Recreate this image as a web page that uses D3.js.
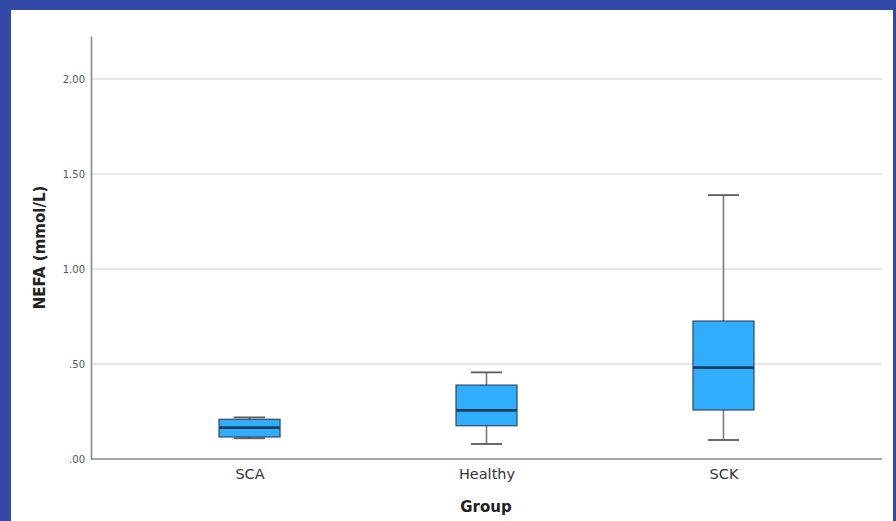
<!DOCTYPE html>
<html>
<head>
<meta charset="utf-8">
<script src="https://cdn.jsdelivr.net/npm/d3@7/dist/d3.min.js"></script>
<style>
  html, body { margin: 0; padding: 0; background: #3349a8; }
  svg { display: block; }
</style>
</head>
<body>
<svg id="chart" width="896" height="521"></svg>
<script>
const categories = ["SCA", "Healthy", "SCK"];
const mins    = [0.109, 0.079, 0.100];
const q1s     = [0.116, 0.175, 0.258];
const medians = [0.165, 0.256, 0.481];
const q3s     = [0.209, 0.389, 0.726];
const maxs    = [0.219, 0.456, 1.389];
const yTicks = [0, 0.5, 1.0, 1.5, 2.0];
const yTickLabels = [".00", ".50", "1.00", "1.50", "2.00"];

const data = categories.map((c, i) => ({
  cat: c, min: mins[i], q1: q1s[i], med: medians[i], q3: q3s[i], max: maxs[i]
}));

const svg = d3.select("#chart");
svg.append("rect").attr("x", 11).attr("y", 10).attr("width", 882).attr("height", 511).attr("fill", "#ffffff");

const mLeft = 91, mRight = 882, mTop = 36, mBottom = 459;
const y = d3.scaleLinear().domain([0, 2.2265]).range([mBottom, mTop]);
const x = d3.scalePoint().domain(categories).range([mLeft, mRight]).padding(0.669);

// gridlines
svg.append("g").selectAll("line").data(yTicks.filter(t => t > 0)).join("line")
  .attr("x1", mLeft).attr("x2", mRight)
  .attr("y1", d => y(d)).attr("y2", d => y(d))
  .attr("stroke", "#dedede").attr("stroke-width", 1.4);

// y axis
const yAxis = d3.axisLeft(y).tickValues(yTicks).tickFormat((d, i) => yTickLabels[i]).tickSize(0).tickPadding(6);
const gy = svg.append("g").attr("transform", `translate(${mLeft},0)`).call(yAxis);
gy.select(".domain").attr("stroke", "#8a8a8a").attr("stroke-width", 1.6);
gy.selectAll("text").attr("font-family", "DejaVu Sans").attr("font-size", 10).attr("fill", "#555");

// x axis
const xAxis = d3.axisBottom(x).tickSize(0).tickPadding(10);
const gx = svg.append("g").attr("transform", `translate(0,${mBottom})`).call(xAxis);
gx.select(".domain").attr("stroke", "#8a8a8a").attr("stroke-width", 1.6).attr("d", `M${mLeft},0H${mRight}`);
gx.selectAll("text").attr("font-family", "DejaVu Sans").attr("font-size", 14.5).attr("fill", "#333");

const boxW = 61, capW = 31;
const g = svg.append("g").selectAll("g").data(data).join("g");

// whisker stems
g.append("line").attr("x1", d => x(d.cat)).attr("x2", d => x(d.cat))
  .attr("y1", d => y(d.max)).attr("y2", d => y(d.q3))
  .attr("stroke", "#7a7a7a").attr("stroke-width", 1.6);
g.append("line").attr("x1", d => x(d.cat)).attr("x2", d => x(d.cat))
  .attr("y1", d => y(d.q1)).attr("y2", d => y(d.min))
  .attr("stroke", "#7a7a7a").attr("stroke-width", 1.6);
// caps
g.append("line").attr("x1", d => x(d.cat) - capW / 2).attr("x2", d => x(d.cat) + capW / 2)
  .attr("y1", d => y(d.max)).attr("y2", d => y(d.max))
  .attr("stroke", "#5a5a5a").attr("stroke-width", 1.8);
g.append("line").attr("x1", d => x(d.cat) - capW / 2).attr("x2", d => x(d.cat) + capW / 2)
  .attr("y1", d => y(d.min)).attr("y2", d => y(d.min))
  .attr("stroke", "#5a5a5a").attr("stroke-width", 1.8);
// box
g.append("rect").attr("x", d => x(d.cat) - boxW / 2).attr("width", boxW)
  .attr("y", d => y(d.q3)).attr("height", d => y(d.q1) - y(d.q3))
  .attr("fill", "#31adfe").attr("stroke", "#2c4a60").attr("stroke-width", 1.2);
// median
g.append("line").attr("x1", d => x(d.cat) - boxW / 2).attr("x2", d => x(d.cat) + boxW / 2)
  .attr("y1", d => y(d.med)).attr("y2", d => y(d.med))
  .attr("stroke", "#1b3f5c").attr("stroke-width", 2.6);

// axis titles
svg.append("text").attr("x", 486).attr("y", 512)
  .attr("text-anchor", "middle").attr("font-family", "DejaVu Sans").attr("font-weight", "bold")
  .attr("font-size", 15).attr("fill", "#222").text("Group");
svg.append("text").attr("transform", `translate(45,${(mTop + mBottom) / 2}) rotate(-90)`)
  .attr("text-anchor", "middle").attr("font-family", "DejaVu Sans").attr("font-weight", "bold")
  .attr("font-size", 15).attr("fill", "#222").text("NEFA (mmol/L)");
</script>
</body>
</html>
